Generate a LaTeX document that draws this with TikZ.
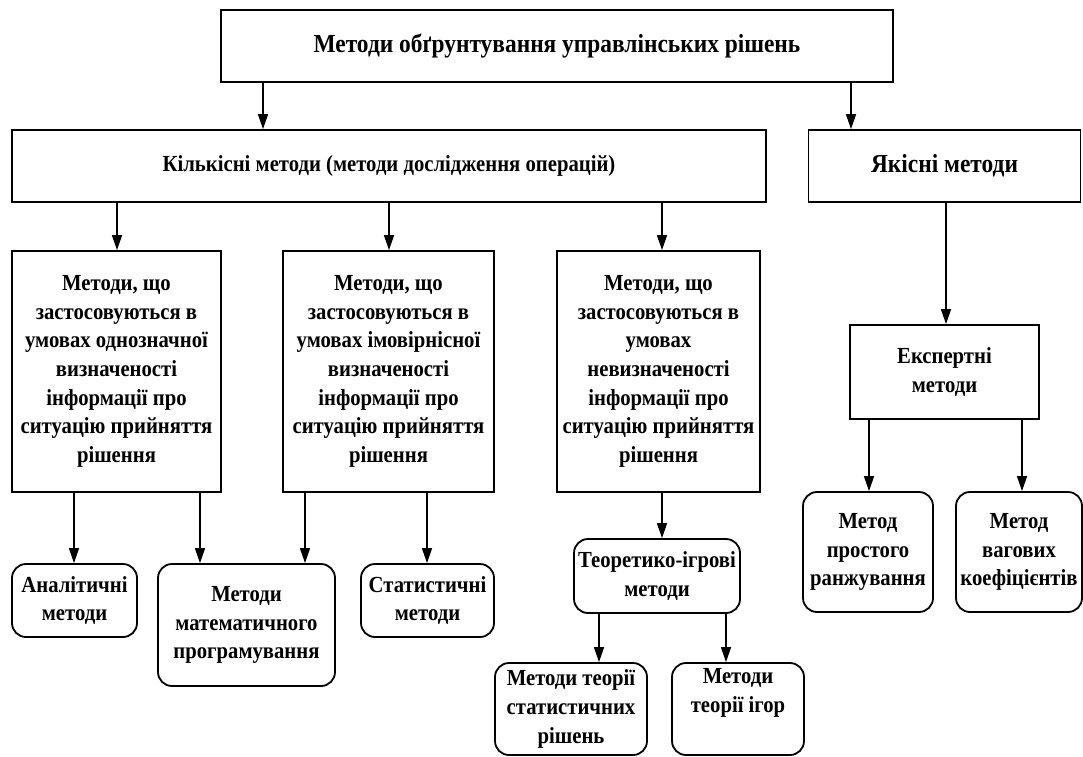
\documentclass[tikz,border=0pt]{standalone}
\usepackage{fontspec}
\setmainfont{Liberation Serif}[FakeStretch=0.9]
\usetikzlibrary{arrows.meta}

\begin{document}
\begin{tikzpicture}[x=1pt,y=-1pt,
  box/.style={draw=black, line width=1.8pt, inner sep=0pt, align=center,
    font=\bfseries\fontsize{23}{28.7}\selectfont},
  bigtext/.style={font=\bfseries\fontsize{26}{30}\selectfont},
  rbox/.style={box, rounded corners=14pt},
  arr/.style={draw=black, line width=1.5pt, -{Triangle[length=15pt,width=10pt]}}]
\useasboundingbox (0,0) rectangle (1083,756);

% top level
\node[box, bigtext, minimum width=672, minimum height=72]
  (top) at (557,46) {Методи обґрунтування управлінських рішень};

% second level
\node[box, minimum width=754, minimum height=72] (kil) at (389,166)
  {Кількісні методи (методи дослідження операцій)};
\node[box, bigtext, minimum width=272, minimum height=72]
  (yak) at (944.5,166) {Якісні методи};

% third level
\node[box, minimum width=209, minimum height=241] (a) at (116.5,371.5)
  {Методи, що\\застосовуються в\\умовах однозначної\\визначеності\\інформації про\\ситуацію прийняття\\рішення};
\node[box, minimum width=211, minimum height=241] (b) at (388.5,371.5)
  {Методи, що\\застосовуються в\\умовах імовірнісної\\визначеності\\інформації про\\ситуацію прийняття\\рішення};
\node[box, minimum width=203, minimum height=241] (c) at (658.5,371.5)
  {Методи, що\\застосовуються в\\умовах\\невизначеності\\інформації про\\ситуацію прийняття\\рішення};
\node[box, minimum width=189, minimum height=94] (eks) at (944.5,372)
  {Експертні\\методи};

% lower level
\node[rbox, minimum width=125, minimum height=73] (an) at (74.5,600.5)
  {Аналітичні\\методи};
\node[rbox, minimum width=177, minimum height=122] (mat) at (246.5,625)
  {Методи\\математичного\\програмування};
\node[rbox, minimum width=133, minimum height=73] (stat) at (427.5,600.5)
  {Статистичні\\методи};
\node[rbox, minimum width=166, minimum height=74] (teor) at (657,576)
  {Теоретико-ігрові\\методи};
\node[rbox, minimum width=152, minimum height=92] (std) at (571,709)
  {Методи теорії\\статистичних\\рішень};
\node[rbox, minimum width=132, minimum height=92] (games) at (738,709)
  {Методи\\теорії ігор\\\strut};
\node[rbox, minimum width=130, minimum height=120] (prost) at (868,552)
  {Метод\\простого\\ранжування};
\node[rbox, minimum width=126, minimum height=120] (vah) at (1019,552)
  {Метод\\вагових\\коефіцієнтів};

% connectors
\draw[arr] (top.south -| 263,0) -- (kil.north -| 263,0);
\draw[arr] (top.south -| 851,0) -- (yak.north -| 851,0);
\draw[arr] (kil.south -| 117,0) -- (a.north -| 117,0);
\draw[arr] (kil.south -| 389,0) -- (b.north -| 389,0);
\draw[arr] (kil.south -| 662,0) -- (c.north -| 662,0);
\draw[arr] (yak.south -| 946,0) -- (eks.north -| 946,0);
\draw[arr] (a.south -| 74,0) -- (an.north -| 74,0);
\draw[arr] (a.south -| 200,0) -- (mat.north -| 200,0);
\draw[arr] (b.south -| 305,0) -- (mat.north -| 305,0);
\draw[arr] (b.south -| 427,0) -- (stat.north -| 427,0);
\draw[arr] (c.south -| 662,0) -- (teor.north -| 662,0);
\draw[arr] (teor.south -| 599,0) -- (std.north -| 599,0);
\draw[arr] (teor.south -| 726,0) -- (games.north -| 726,0);
\draw[arr] (eks.south -| 869,0) -- (prost.north -| 869,0);
\draw[arr] (eks.south -| 1022,0) -- (vah.north -| 1022,0);
\end{tikzpicture}
\end{document}
